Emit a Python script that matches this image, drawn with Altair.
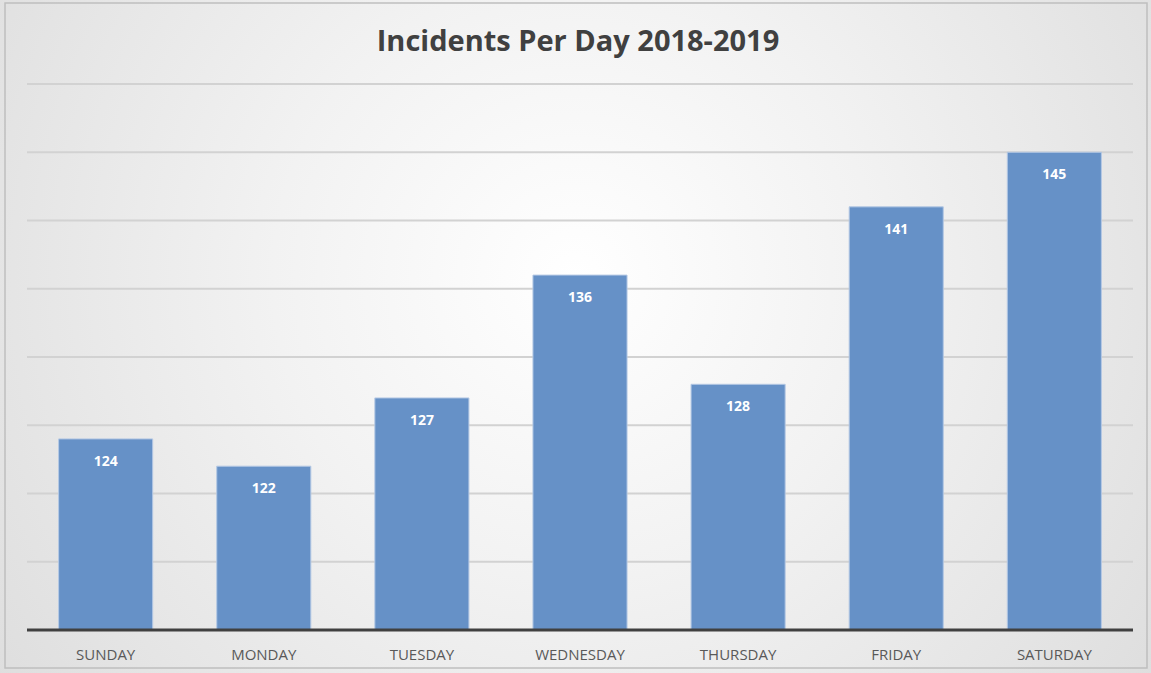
import altair as alt
import pandas as pd

days = ["SUNDAY", "MONDAY", "TUESDAY", "WEDNESDAY", "THURSDAY", "FRIDAY", "SATURDAY"]
incidents = [124, 122, 127, 136, 128, 141, 145]
grid_values = [115, 120, 125, 130, 135, 140, 145, 150]
title_text = "Incidents Per Day 2018-2019"

df = pd.DataFrame({"day": days, "incidents": incidents})

W, H = 1106, 546
PL, PT, PR, PB = 27, 84, 18, 43

yscale = alt.Scale(domain=[110, 150], nice=False, zero=False, clamp=True)

bg = alt.Chart(pd.DataFrame({"a": [0]})).mark_rect(
    color=alt.Gradient(
        gradient="radial",
        x1=0.5, y1=0.45, r1=0, x2=0.5, y2=0.45, r2=0.75,
        stops=[alt.GradientStop(color="#ffffff", offset=0),
               alt.GradientStop(color="#f2f2f2", offset=0.35),
               alt.GradientStop(color="#d6d6d6", offset=1)],
    )
).encode(x=alt.value(-PL), x2=alt.value(W + PR), y=alt.value(-PT), y2=alt.value(H + PB))

frame = alt.Chart(pd.DataFrame({"a": [0]})).mark_rect(
    fill=None, stroke="#bfbfbf", strokeWidth=1.5
).encode(x=alt.value(-PL + 5), x2=alt.value(W + PR - 4), y=alt.value(-PT + 3), y2=alt.value(H + PB - 5))

grid = alt.Chart(pd.DataFrame({"v": grid_values})).mark_rule(color="#d2d2d2", strokeWidth=2).encode(
    y=alt.Y("v:Q", scale=yscale, axis=None)
)

title = alt.Chart(pd.DataFrame({"t": [title_text]})).mark_text(
    font="Open Sans", fontSize=29, fontWeight="bold", color="#404040", baseline="middle", align="center"
).encode(x=alt.value(551), y=alt.value(-PT + 42), text="t:N")

base = alt.Chart(df)

bars = base.mark_bar(color="#6691c7", stroke="#b4c8e4", strokeWidth=1).encode(
    x=alt.X("day:N", sort=days,
            scale=alt.Scale(paddingInner=0.405, paddingOuter=0.2),
            axis=alt.Axis(title=None, labelAngle=0, labelFont="Open Sans", labelFontSize=15,
                          labelColor="#595959", labelPadding=17, domain=False, ticks=False,
                          zindex=1)),
    y=alt.Y("incidents:Q", scale=yscale, axis=None),
    y2=alt.datum(110),
)

labels = base.mark_text(color="white", font="Open Sans", fontWeight="bold", fontSize=14,
                        baseline="middle", dy=23).encode(
    x=alt.X("day:N", sort=days),
    y="incidents:Q",
    text="incidents:Q",
)

baseline = alt.Chart(pd.DataFrame({"v": [110]})).mark_rule(color="#404040", strokeWidth=3).encode(
    y="v:Q"
)

chart = alt.layer(bg, frame, grid, title, bars, labels, baseline).properties(
    width=W, height=H,
    padding={"left": PL, "top": PT, "right": PR, "bottom": PB},
    autosize=alt.AutoSizeParams(type="none"),
    background="#e4e4e4",
).configure_view(strokeWidth=0)

chart.save("out.html", embed_options={"renderer": "svg", "actions": False})
